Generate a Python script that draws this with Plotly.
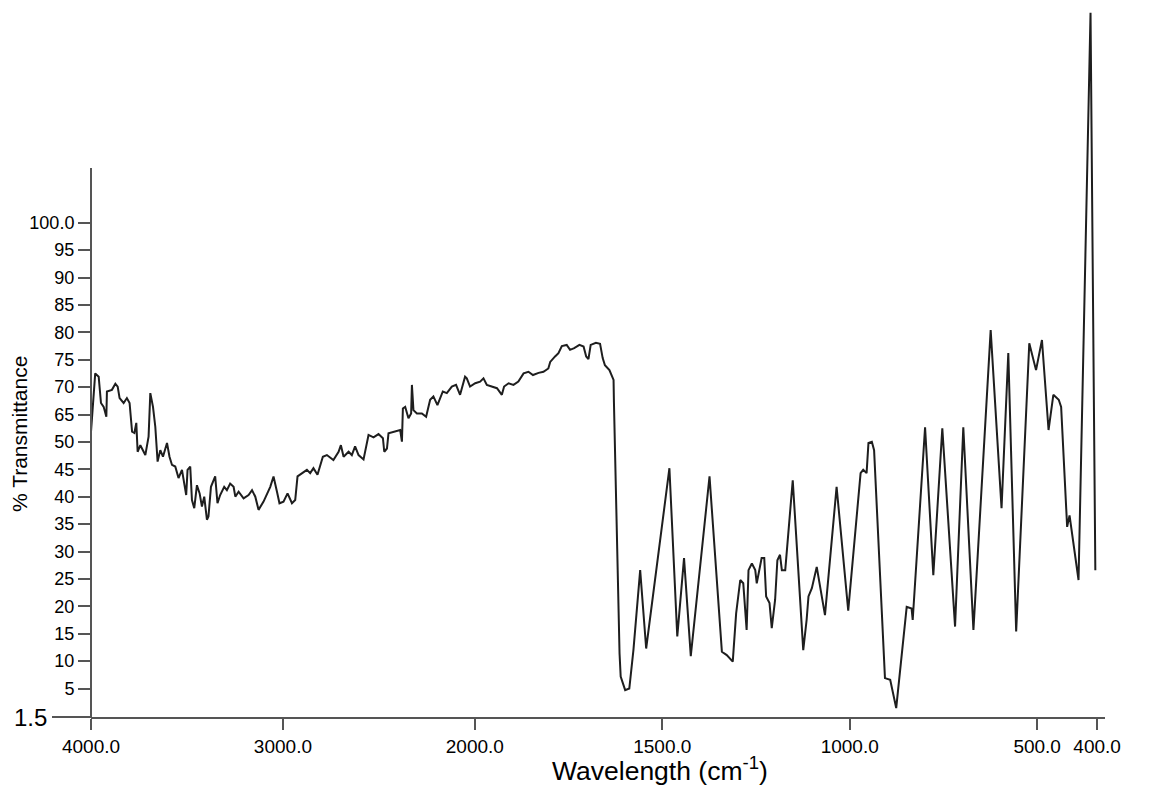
import numpy as np
import plotly.graph_objects as go

# ---- data (wavenumber in cm-1, % transmittance) ----
wavenumber = [
    4000, 3995, 3978, 3960, 3948, 3934, 3920, 3917, 3891, 3873, 3861, 3851, 3830, 3813, 3799,
    3786, 3774, 3764, 3757, 3743, 3717, 3700, 3691, 3677, 3665, 3653, 3639, 3625, 3604, 3591,
    3578, 3561, 3544, 3526, 3518, 3504, 3497, 3483, 3474, 3462, 3448, 3434, 3422, 3410, 3396,
    3388, 3375, 3353, 3341, 3327, 3306, 3292, 3275, 3257, 3248, 3231, 3205, 3179, 3161, 3144,
    3127, 3101, 3066, 3049, 3031, 3018, 2997, 2976, 2953, 2936, 2924, 2901, 2875, 2858, 2841,
    2820, 2792, 2771, 2737, 2710, 2698, 2684, 2658, 2641, 2624, 2606, 2580, 2554, 2528, 2502,
    2479, 2472, 2458, 2450, 2389, 2380, 2375, 2363, 2346, 2332, 2328, 2320, 2302, 2276, 2254,
    2233, 2216, 2195, 2167, 2146, 2120, 2098, 2077, 2051, 2042, 2025, 1999,
    1986, 1977, 1968, 1955, 1941, 1928, 1922, 1910, 1897, 1884, 1870, 1857, 1845, 1830, 1817,
    1804, 1799, 1786, 1777, 1768, 1755, 1746, 1735, 1721, 1710, 1703, 1697, 1691, 1677, 1666,
    1659, 1653, 1641, 1630, 1629, 1614, 1611, 1599, 1588, 1577, 1559, 1543, 1481, 1460, 1442,
    1424, 1374, 1341, 1328, 1312, 1306, 1303, 1292, 1284, 1275, 1270, 1261, 1252, 1248, 1235,
    1228, 1223, 1214, 1208, 1199, 1193, 1186, 1181, 1172, 1152, 1124, 1115, 1110, 1101, 1088,
    1066, 1035, 1004, 971, 964, 955, 950, 941, 935, 906, 892, 876, 848, 835, 832,
    799, 777, 753, 719, 697, 670, 624, 595, 577, 556, 521, 503, 492, 481, 473,
    464, 460, 450, 446, 431, 411, 403,
]
transmittance = [
    55.6, 62.0, 72.5, 71.9, 67.1, 66.4, 63.8, 69.2, 69.5, 70.6, 70.1, 68.0, 67.1, 68.0, 67.1,
    55.6, 54.9, 60.4, 48.2, 49.4, 47.6, 52.9, 68.9, 66.4, 58.3, 46.4, 48.5, 47.3, 49.8, 47.3,
    45.8, 45.5, 43.4, 44.9, 43.0, 40.3, 44.9, 45.5, 39.4, 37.9, 42.1, 40.6, 38.2, 40.0, 35.8,
    36.4, 41.8, 43.7, 38.8, 40.3, 41.8, 41.2, 42.4, 41.8, 40.0, 40.9, 39.7, 40.3, 41.2, 40.0,
    37.6, 39.1, 41.8, 43.7, 40.9, 38.8, 39.1, 40.6, 38.8, 39.4, 43.7, 44.3, 44.9, 44.3, 45.2,
    44.0, 47.3, 47.6, 46.7, 48.2, 49.4, 47.3, 48.2, 47.6, 49.2, 47.6, 46.8, 53.8, 52.5, 54.3,
    52.0, 48.2, 48.8, 54.7, 56.5, 50.1, 66.1, 66.4, 62.9, 65.2, 70.4, 65.8, 65.2, 65.2, 63.8,
    67.7, 68.3, 66.7, 69.2, 68.9, 70.1, 70.4, 68.6, 71.9, 71.6, 70.1, 70.7,
    71.0, 71.6, 70.4, 70.1, 69.8, 68.6, 70.1, 70.7, 70.4, 71.0, 72.5, 72.8, 72.2, 72.6, 72.8,
    73.4, 74.6, 75.6, 76.2, 77.5, 77.7, 76.8, 77.1, 77.7, 77.4, 75.6, 75.1, 77.7, 78.1, 77.9,
    75.3, 74.0, 73.1, 71.3, 67.3, 11.4, 7.2, 4.8, 5.0, 12.0, 26.6, 12.3, 45.2, 14.5, 28.8,
    10.9, 43.7, 11.7, 11.1, 9.9, 14.8, 18.7, 24.8, 24.2, 15.7, 26.6, 27.8, 26.6, 24.2, 28.8,
    28.8, 21.8, 20.6, 16.0, 21.2, 28.4, 29.4, 26.6, 26.6, 43.0, 12.0, 17.5, 21.8, 23.3, 27.2,
    18.4, 41.8, 19.2, 44.3, 44.9, 44.3, 49.8, 50.1, 48.5, 6.9, 6.6, 2.6, 19.9, 19.6, 17.5,
    58.0, 25.7, 57.4, 16.3, 58.0, 15.7, 80.4, 37.9, 76.2, 15.4, 78.0, 73.1, 78.6, 56.5, 68.6,
    67.7, 66.4, 34.5, 36.6, 24.8, 138.3, 26.6,
]

# ---- tick labels as printed on the original axes ----
x_tick_values = [4000, 3000, 2000, 1500, 1000, 500, 400]
x_tick_labels = ["4000.0", "3000.0", "2000.0", "1500.0", "1000.0", "500.0", "400.0"]
y_tick_values = [100, 95, 90, 85, 80, 75, 70, 65, 50, 45, 40, 35, 30, 25, 20, 15, 10, 5]
y_tick_labels = ["100.0", "95", "90", "85", "80", "75", "70", "65", "50",
                 "45", "40", "35", "30", "25", "20", "15", "10", "5"]
y_bottom_label = "1.5"

# ---- the original chart uses broken (piecewise-linear) axes ----
X_BREAK_WN = [4000, 2000, 500, 400]       # scale changes at 2000 and 500 cm-1
X_BREAK_POS = [0, 1024, 2524, 2684]
X_END_POS = 2705
Y_BREAK_T = [1.5, 5, 50, 65, 150]         # 65 is followed directly by 50 on the axis
Y_BREAK_POS = [9.8, 15, 60, 65, 150]
Y_TOP_POS = 139.18
Y_LINE_TOP = 110


def x_scale(wn):
    wn = np.asarray(wn, dtype=float)
    return np.interp(-wn, [-w for w in X_BREAK_WN], X_BREAK_POS)


def y_scale(t):
    return np.interp(np.asarray(t, dtype=float), Y_BREAK_T, Y_BREAK_POS)


LINE = "#1e1e1e"
AXIS = "#555555"
FONT = "Liberation Sans, Arial, Helvetica, sans-serif"

W, H = 1153, 777
ML, MR, MT, MB = 83, 56, 0, 68
PW = W - ML - MR

fig = go.Figure()
fig.add_trace(go.Scatter(
    x=x_scale(wavenumber), y=y_scale(transmittance), mode="lines",
    line=dict(color=LINE, width=2), showlegend=False, hoverinfo="skip",
))

y0 = Y_BREAK_POS[0]
fig.update_layout(
    width=W, height=H,
    margin=dict(l=ML, r=MR, t=MT, b=MB),
    paper_bgcolor="white", plot_bgcolor="white",
    font=dict(family=FONT, color="black"),
    xaxis=dict(
        range=[0, X_END_POS], tickmode="array",
        tickvals=list(x_scale(x_tick_values)), ticktext=x_tick_labels,
        ticks="outside", ticklen=11, tickwidth=2, tickcolor=AXIS,
        showline=True, linecolor=AXIS, linewidth=2,
        showgrid=False, zeroline=False, tickfont=dict(size=19, color="black"),
    ),
    yaxis=dict(
        range=[y0, Y_TOP_POS], tickmode="array",
        tickvals=list(y_scale(y_tick_values)), ticktext=y_tick_labels,
        ticks="outside", ticklen=12, tickwidth=2, tickcolor=AXIS,
        showline=False, showgrid=False, zeroline=False,
        tickfont=dict(size=18, color="black"),
    ),
)

top_frac = (Y_LINE_TOP - y0) / (Y_TOP_POS - y0)
fig.add_shape(type="line", xref="paper", yref="paper", x0=0, x1=0, y0=0, y1=top_frac,
              line=dict(color=AXIS, width=2))
fig.add_shape(type="line", xref="paper", yref="paper", x0=-39 / PW, x1=0, y0=0, y1=0,
              line=dict(color=AXIS, width=2))

fig.add_annotation(text=y_bottom_label, xref="paper", yref="paper", x=-61 / PW, y=0,
                   xanchor="center", yanchor="middle", showarrow=False,
                   font=dict(size=24, color="black"))
fig.add_annotation(text="% Transmittance", xref="paper", yref="paper", x=-71 / PW,
                   y=(709 - 426) / 709, xanchor="center", yanchor="middle", textangle=-90,
                   showarrow=False, font=dict(size=21, color="black"))
fig.add_annotation(text="Wavelength (cm<sup>-1</sup>)", xref="paper", yref="paper",
                   x=(660 - 91) / PW, y=-(761 - 709) / 709, xanchor="center", yanchor="middle",
                   showarrow=False, font=dict(size=26.5, color="black"))

fig.write_html("out.html")
